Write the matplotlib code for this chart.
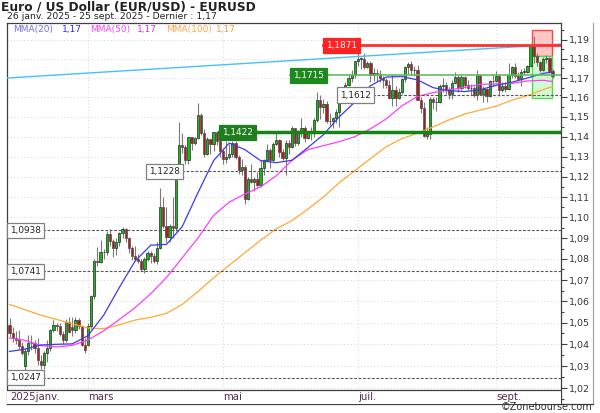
import matplotlib
matplotlib.use('Agg')
import matplotlib.pyplot as plt
from matplotlib.patches import Rectangle
from matplotlib.lines import Line2D
from matplotlib.ticker import FixedLocator, FuncFormatter, NullFormatter
import matplotlib.transforms as mtransforms
import numpy as np
import pandas as pd

#---------------------------------- data ----------------------------------
# one candle per trading day, 27 jan -> 25 sept 2025
dates = pd.bdate_range('2025-01-27', '2025-09-25')

opens = [1.0490, 1.0450, 1.0430, 1.0422, 1.0390, 1.0300, 1.0370, 1.0405, 1.0404, 1.0382,
         1.0325, 1.0306, 1.0361, 1.0384, 1.0466, 1.0490, 1.0484, 1.0446, 1.0422, 1.0504,
         1.0480, 1.0466, 1.0513, 1.0485, 1.0397, 1.0395, 1.0484, 1.0625, 1.0790, 1.0784,
         1.0833, 1.0833, 1.0918, 1.0888, 1.0853, 1.0880, 1.0923, 1.0942, 1.0900, 1.0854,
         1.0816, 1.0802, 1.0790, 1.0752, 1.0798, 1.0828, 1.0816, 1.0792, 1.0851, 1.1049,
         1.0960, 1.0906, 1.0959, 1.0951, 1.1197, 1.1357, 1.1350, 1.1285, 1.1398, 1.1368,
         1.1395, 1.1509, 1.1420, 1.1315, 1.1389, 1.1364, 1.1423, 1.1381, 1.1329, 1.1290,
         1.1297, 1.1315, 1.1369, 1.1300, 1.1234, 1.1250, 1.1090, 1.1188, 1.1175, 1.1187,
         1.1161, 1.1242, 1.1283, 1.1331, 1.1283, 1.1364, 1.1384, 1.1323, 1.1291, 1.1369,
         1.1346, 1.1442, 1.1371, 1.1418, 1.1445, 1.1396, 1.1420, 1.1424, 1.1487, 1.1585,
         1.1549, 1.1564, 1.1480, 1.1480, 1.1494, 1.1523, 1.1578, 1.1609, 1.1664, 1.1700,
         1.1718, 1.1786, 1.1801, 1.1801, 1.1757, 1.1777, 1.1714, 1.1727, 1.1719, 1.1701,
         1.1690, 1.1663, 1.1597, 1.1640, 1.1597, 1.1626, 1.1694, 1.1755, 1.1771, 1.1739,
         1.1744, 1.1589, 1.1546, 1.1405, 1.1415, 1.1590, 1.1574, 1.1575, 1.1660, 1.1666,
         1.1642, 1.1616, 1.1676, 1.1704, 1.1649, 1.1703, 1.1663, 1.1647, 1.1650, 1.1610,
         1.1718, 1.1620, 1.1641, 1.1608, 1.1683, 1.1686, 1.1710, 1.1640, 1.1659, 1.1645,
         1.1717, 1.1758, 1.1710, 1.1696, 1.1733, 1.1733, 1.1760, 1.1868, 1.1816, 1.1785,
         1.1744, 1.1800, 1.1802, 1.1737]

highs = [1.0520, 1.0480, 1.0460, 1.0468, 1.0410, 1.0385, 1.0442, 1.0442, 1.0420, 1.0430,
         1.0350, 1.0370, 1.0420, 1.0470, 1.0513, 1.0500, 1.0500, 1.0460, 1.0515, 1.0528,
         1.0528, 1.0528, 1.0520, 1.0490, 1.0430, 1.0500, 1.0630, 1.0800, 1.0855, 1.0890,
         1.0850, 1.0935, 1.0945, 1.0895, 1.0900, 1.0930, 1.0955, 1.0950, 1.0905, 1.0860,
         1.0860, 1.0825, 1.0800, 1.0810, 1.0840, 1.0840, 1.0830, 1.0880, 1.1144, 1.1100,
         1.1050, 1.0970, 1.1100, 1.1200, 1.1473, 1.1420, 1.1360, 1.1400, 1.1400, 1.1400,
         1.1573, 1.1520, 1.1440, 1.1400, 1.1390, 1.1425, 1.1425, 1.1425, 1.1345, 1.1380,
         1.1365, 1.1380, 1.1380, 1.1310, 1.1290, 1.1260, 1.1200, 1.1265, 1.1200, 1.1225,
         1.1285, 1.1290, 1.1365, 1.1345, 1.1375, 1.1420, 1.1390, 1.1340, 1.1385, 1.1385,
         1.1455, 1.1445, 1.1435, 1.1495, 1.1455, 1.1425, 1.1450, 1.1495, 1.1630, 1.1615,
         1.1590, 1.1580, 1.1520, 1.1500, 1.1540, 1.1585, 1.1640, 1.1680, 1.1720, 1.1740,
         1.1790, 1.1830, 1.1810, 1.1830, 1.1790, 1.1790, 1.1750, 1.1745, 1.1740, 1.1710,
         1.1700, 1.1690, 1.1720, 1.1660, 1.1650, 1.1700, 1.1760, 1.1785, 1.1790, 1.1760,
         1.1770, 1.1600, 1.1575, 1.1450, 1.1600, 1.1600, 1.1600, 1.1670, 1.1700, 1.1680,
         1.1655, 1.1690, 1.1730, 1.1715, 1.1715, 1.1710, 1.1690, 1.1670, 1.1660, 1.1740,
         1.1720, 1.1660, 1.1650, 1.1690, 1.1720, 1.1735, 1.1720, 1.1680, 1.1680, 1.1780,
         1.1760, 1.1780, 1.1730, 1.1745, 1.1750, 1.1770, 1.1878, 1.1918, 1.1830, 1.1790,
         1.1810, 1.1820, 1.1810, 1.1745]

lows = [1.0435, 1.0410, 1.0400, 1.0380, 1.0350, 1.0210, 1.0350, 1.0375, 1.0360, 1.0305,
        1.0285, 1.0285, 1.0320, 1.0370, 1.0455, 1.0460, 1.0440, 1.0400, 1.0412, 1.0450,
        1.0440, 1.0450, 1.0470, 1.0390, 1.0360, 1.0390, 1.0470, 1.0610, 1.0765, 1.0780,
        1.0800, 1.0820, 1.0860, 1.0810, 1.0820, 1.0860, 1.0900, 1.0880, 1.0830, 1.0795,
        1.0790, 1.0780, 1.0745, 1.0733, 1.0790, 1.0780, 1.0780, 1.0775, 1.0850, 1.0950,
        1.0880, 1.0880, 1.0900, 1.0935, 1.1190, 1.1320, 1.1265, 1.1265, 1.1335, 1.1360,
        1.1390, 1.1410, 1.1300, 1.1310, 1.1315, 1.1330, 1.1360, 1.1300, 1.1265, 1.1270,
        1.1290, 1.1300, 1.1290, 1.1215, 1.1210, 1.1065, 1.1085, 1.1170, 1.1130, 1.1150,
        1.1150, 1.1210, 1.1280, 1.1245, 1.1280, 1.1360, 1.1300, 1.1285, 1.1210, 1.1315,
        1.1345, 1.1355, 1.1360, 1.1400, 1.1375, 1.1390, 1.1385, 1.1400, 1.1475, 1.1490,
        1.1520, 1.1470, 1.1460, 1.1445, 1.1470, 1.1450, 1.1570, 1.1590, 1.1660, 1.1680,
        1.1700, 1.1760, 1.1745, 1.1745, 1.1750, 1.1680, 1.1685, 1.1685, 1.1680, 1.1650,
        1.1650, 1.1590, 1.1555, 1.1555, 1.1590, 1.1620, 1.1680, 1.1720, 1.1715, 1.1710,
        1.1585, 1.1520, 1.1400, 1.1390, 1.1390, 1.1540, 1.1530, 1.1570, 1.1630, 1.1620,
        1.1590, 1.1590, 1.1670, 1.1630, 1.1640, 1.1650, 1.1640, 1.1615, 1.1600, 1.1585,
        1.1615, 1.1575, 1.1575, 1.1600, 1.1660, 1.1680, 1.1605, 1.1630, 1.1630, 1.1640,
        1.1700, 1.1700, 1.1690, 1.1660, 1.1715, 1.1725, 1.1755, 1.1780, 1.1760, 1.1730,
        1.1735, 1.1780, 1.1725, 1.1700]

closes = [1.0450, 1.0430, 1.0422, 1.0390, 1.0362, 1.0370, 1.0405, 1.0404, 1.0382, 1.0330,
          1.0306, 1.0361, 1.0384, 1.0466, 1.0490, 1.0484, 1.0446, 1.0422, 1.0504, 1.0459,
          1.0466, 1.0513, 1.0485, 1.0397, 1.0376, 1.0484, 1.0625, 1.0790, 1.0784, 1.0833,
          1.0833, 1.0918, 1.0888, 1.0853, 1.0880, 1.0923, 1.0942, 1.0900, 1.0854, 1.0816,
          1.0802, 1.0790, 1.0752, 1.0798, 1.0828, 1.0816, 1.0792, 1.0851, 1.1049, 1.0960,
          1.0906, 1.0959, 1.0951, 1.1197, 1.1357, 1.1350, 1.1285, 1.1398, 1.1368, 1.1395,
          1.1509, 1.1420, 1.1315, 1.1389, 1.1364, 1.1423, 1.1381, 1.1329, 1.1290, 1.1297,
          1.1315, 1.1369, 1.1300, 1.1234, 1.1250, 1.1090, 1.1188, 1.1175, 1.1187, 1.1161,
          1.1242, 1.1283, 1.1331, 1.1283, 1.1364, 1.1384, 1.1323, 1.1291, 1.1369, 1.1346,
          1.1442, 1.1371, 1.1418, 1.1445, 1.1396, 1.1420, 1.1424, 1.1487, 1.1585, 1.1549,
          1.1564, 1.1480, 1.1480, 1.1494, 1.1523, 1.1578, 1.1609, 1.1664, 1.1700, 1.1718,
          1.1786, 1.1801, 1.1801, 1.1757, 1.1777, 1.1714, 1.1727, 1.1719, 1.1701, 1.1690,
          1.1663, 1.1597, 1.1640, 1.1597, 1.1626, 1.1694, 1.1755, 1.1771, 1.1739, 1.1744,
          1.1589, 1.1546, 1.1405, 1.1415, 1.1590, 1.1574, 1.1575, 1.1660, 1.1666, 1.1642,
          1.1616, 1.1676, 1.1704, 1.1649, 1.1703, 1.1663, 1.1647, 1.1650, 1.1610, 1.1718,
          1.1620, 1.1641, 1.1608, 1.1683, 1.1686, 1.1710, 1.1640, 1.1659, 1.1645, 1.1717,
          1.1758, 1.1710, 1.1696, 1.1733, 1.1733, 1.1760, 1.1868, 1.1816, 1.1785, 1.1744,
          1.1800, 1.1802, 1.1737, 1.1712]

# moving averages, one point per week
ma_idx = [0, 5, 10, 15, 20, 25, 30, 35, 40, 45, 50, 55, 60, 65, 70, 75, 80, 85, 90,
          95, 100, 105, 110, 115, 120, 125, 130, 135, 140, 145, 150, 155, 160, 165, 170, 173]
mma20 = [1.0367, 1.0378, 1.0397, 1.0400, 1.0402, 1.0440, 1.0535, 1.0665, 1.0790, 1.0866,
         1.0870, 1.0955, 1.1120, 1.1280, 1.1368, 1.1335, 1.1280, 1.1270, 1.1282, 1.1345,
         1.1410, 1.1500, 1.1576, 1.1660, 1.1705, 1.1708, 1.1690, 1.1650, 1.1635, 1.1630,
         1.1640, 1.1662, 1.1678, 1.1700, 1.1724, 1.1731]
mma50 = [1.0429, 1.0418, 1.0394, 1.0388, 1.0395, 1.0420, 1.0462, 1.0515, 1.0570, 1.0635,
         1.0712, 1.0805, 1.0900, 1.1010, 1.1075, 1.1115, 1.1150, 1.1205, 1.1282, 1.1335,
         1.1355, 1.1375, 1.1400, 1.1440, 1.1490, 1.1557, 1.1605, 1.1625, 1.1638, 1.1652,
         1.1667, 1.1670, 1.1672, 1.1685, 1.1688, 1.1682]
mma100 = [1.0585, 1.0560, 1.0535, 1.0515, 1.0495, 1.0475, 1.0472, 1.0490, 1.0512, 1.0525,
          1.0543, 1.0585, 1.0645, 1.0710, 1.0770, 1.0830, 1.0890, 1.0945, 1.0985, 1.1040,
          1.1100, 1.1170, 1.1230, 1.1290, 1.1350, 1.1390, 1.1418, 1.1450, 1.1485, 1.1515,
          1.1535, 1.1555, 1.1585, 1.1610, 1.1640, 1.1656]

trend_ends = [1.1700, 1.1877]          # light blue line, left edge -> right edge
res_level = 1.1871
sup_level_1 = 1.1715
sup_level_2 = 1.1422
dashed_levels = [1.1612, 1.1228, 1.0938, 1.0741, 1.0247]
zone_red = [1.1816, 1.1951]
zone_green = [1.1595, 1.1816]

month_nums = [3, 5, 7, 9]
month_names = ['mars', 'mai', 'juil.', 'sept.']

#---------------------------------- figure ----------------------------------
W, H = 600, 413
fig = plt.figure(figsize=(6, 4.13), dpi=100)
fig.patch.set_facecolor('white')

def fx(px):
    return px / W

def fy(py):
    return 1 - py / H

ax = fig.add_axes([fx(7), fy(404), (561 - 7) / W, (404 - 23) / H])
ax.set_yscale('log')
ax.set_ylim(1.01290, 1.19882)
ax.set_xlim(-0.8, 175.7)

for s in ax.spines.values():
    s.set_color('#404040')
    s.set_linewidth(0.9)

# price scale on the right
ax.yaxis.tick_right()
ax.yaxis.set_major_locator(FixedLocator(np.arange(1.02, 1.195, 0.01)))
ax.yaxis.set_minor_locator(FixedLocator(np.arange(1.015, 1.2, 0.01)))
ax.yaxis.set_major_formatter(FuncFormatter(lambda v, _: f'{v:.2f}'.replace('.', ',')))
ax.yaxis.set_minor_formatter(NullFormatter())
ax.tick_params(axis='y', which='major', length=4, width=0.8, colors='#404040',
               labelsize=6.8, labelcolor='#333333', pad=2)
ax.tick_params(axis='y', which='minor', length=2.5, width=0.8, colors='#404040')
ax.set_xticks([])

# grid
ax.grid(axis='y', which='major', color='#DCDCDC', linestyle=(0, (1, 2)), linewidth=0.8, zorder=0)
x = np.arange(len(closes))
month_idx = [int(np.argmax(dates.month == m)) for m in month_nums]
for mi in month_idx:
    ax.axvline(mi, color='#DCDCDC', linestyle=(0, (1, 2)), linewidth=0.8, zorder=0)

# zones at the end
zx0, zx1 = 166.6, 172.7
ax.add_patch(Rectangle((zx0, zone_red[0]), zx1 - zx0, zone_red[1] - zone_red[0],
                       facecolor='#FFC6C6', edgecolor='#FF4444', linewidth=1, zorder=1))
ax.add_patch(Rectangle((zx0, zone_green[0]), zx1 - zx0, zone_green[1] - zone_green[0],
                       facecolor='#D2FAD2', edgecolor='#4CDA4C', linewidth=1, zorder=1))

# candles
o = np.array(opens)
c = np.array(closes)
h = np.array(highs)
l = np.array(lows)
up = c >= o
ax.vlines(x, l, h, color='#7A7A7A', linewidth=0.8, zorder=3)
body_lo = np.minimum(o, c)
body_h = np.maximum(np.abs(c - o), 0.0002)
ax.bar(x[up], body_h[up], bottom=body_lo[up], width=0.72, color='#18B818',
       edgecolor='#2A2A2A', linewidth=0.5, zorder=4)
ax.bar(x[~up], body_h[~up], bottom=body_lo[~up], width=0.72, color='#A61E1E',
       edgecolor='#505050', linewidth=0.5, zorder=4)

# moving averages
ax.plot(ma_idx, mma100, color='#FFAA33', linewidth=0.9, zorder=5)
ax.plot(ma_idx, mma50, color='#FF3DFF', linewidth=0.9, zorder=5)
ax.plot(ma_idx, mma20, color='#3B3BEE', linewidth=0.9, zorder=5)

# trend line
xl = ax.get_xlim()
ax.plot(xl, trend_ends, color='#45C0FF', linewidth=1.0, zorder=5)

# levels
def level_label(xi, p, txt, fc, ec, tc):
    ax.annotate(txt, xy=(xi, p), xytext=(2.3, 0), textcoords='offset points',
                ha='left', va='center', fontsize=6.4, color=tc, zorder=9,
                bbox=dict(boxstyle='square,pad=0.35', fc=fc, ec=ec, lw=0.9))

ax.plot([99.8, xl[1]], [res_level] * 2, color='#FF3030', linewidth=2, zorder=6)
level_label(99.8, res_level, '1,1871', '#FF2222', '#FF2222', 'white')
ax.plot([89.3, xl[1]], [sup_level_1] * 2, color='#5CC05C', linewidth=1.2, zorder=6)
level_label(89.3, sup_level_1, '1,1715', '#1E8A1E', '#1E8A1E', 'white')
ax.plot([66.7, xl[1]], [sup_level_2] * 2, color='#148414', linewidth=2.5, zorder=6)
level_label(66.7, sup_level_2, '1,1422', '#1E7E1E', '#1E7E1E', 'white')

dash_x = [104.3, 43.5, xl[0], xl[0], xl[0]]
for xi, p in zip(dash_x, dashed_levels):
    ax.plot([xi, xl[1]], [p, p], color='#555555', linewidth=0.8,
            linestyle=(0, (2.5, 1.5)), zorder=6)
    level_label(xi, p, f'{p:.4f}'.replace('.', ','), 'white', '#808080', '#222222')

# date strip at the bottom of the plot
strip_h = 14 / 381
ax.add_patch(Rectangle((0, 0), 1, strip_h, transform=ax.transAxes, facecolor='white',
                       edgecolor='none', zorder=10, clip_on=False))
ax.add_line(Line2D([0, 1], [strip_h, strip_h], transform=ax.transAxes, color='#404040',
                   linewidth=0.9, zorder=11))
trans = mtransforms.blended_transform_factory(ax.transData, ax.transAxes)
ax.text(0.1, 0.5 * strip_h, '2025janv.', transform=trans, fontsize=7.3,
        color='#4E2E4E', va='center', ha='left', zorder=12)
for mi, name in zip(month_idx, month_names):
    ax.text(mi, 0.5 * strip_h, name, transform=trans, fontsize=7.3,
            color='#4E2E4E', va='center', ha='left', zorder=12)

# outer frame on the right of the price scale
fig.add_artist(Line2D([fx(593), fx(593)], [fy(23), fy(404)], color='#9A9A9A', linewidth=0.8))
fig.add_artist(Line2D([fx(561), fx(593)], [fy(404), fy(404)], color='#404040', linewidth=0.9))

# legend of the averages
legend_items = [(13, 'MMA(20)', '#7070F0'), (62, '1,17', '#2E2EE0'),
                (90, 'MMA(50)', '#FF44FF'), (137, '1,17', '#E030E0'),
                (166, 'MMA(100)', '#FFA64D'), (216, '1,17', '#F0A040')]
for px, txt, col in legend_items:
    fig.text(fx(px), fy(29.5), txt, fontsize=6.5, color=col, va='center', ha='left')

# titles (kept just inside the picture)
fig.text(fx(1), fy(0.5), 'Euro / US Dollar (EUR/USD) - EURUSD', fontsize=8.8,
         fontweight='bold', color='#222222', va='top', ha='left')
fig.text(fx(7), fy(19), '26 janv. 2025 - 25 sept. 2025 - Dernier : 1,17',
         fontsize=6.7, color='#222222', va='baseline', ha='left')
fig.text(fx(501), fy(412.5), '©Zonebourse.com', fontsize=7, color='#333333',
         va='bottom', ha='left')

fig.savefig('out.png', dpi=100)
